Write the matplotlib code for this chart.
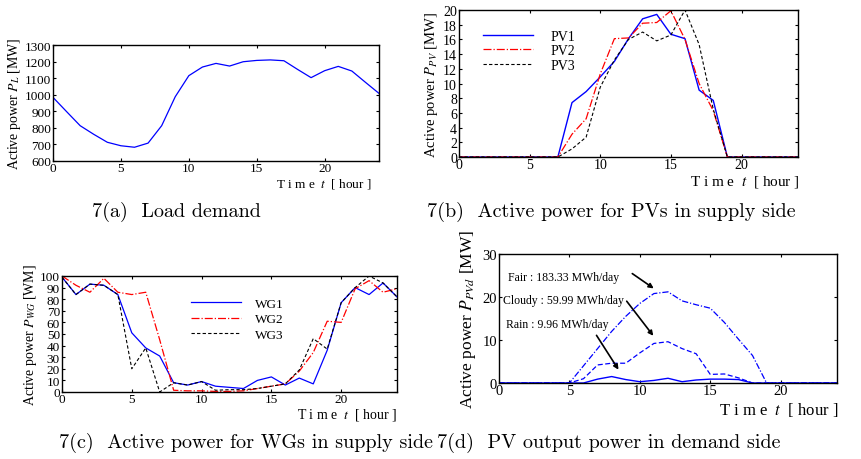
import matplotlib
matplotlib.use("Agg")
import matplotlib.pyplot as plt
import numpy as np

plt.rcParams['font.family'] = ['Liberation Serif', 'DejaVu Serif']
plt.rcParams['mathtext.fontset'] = 'stix'

hours = list(range(25))

# (a) load demand [MW]
load = [984, 898, 813, 761, 713, 692, 683, 708, 813, 988, 1115, 1167, 1189, 1173,
        1199, 1207, 1210, 1205, 1153, 1103, 1145, 1171, 1143, 1075, 1008]

# (b) PV in supply side [MW]
pv1 = [0, 0, 0, 0, 0, 0, 0, 0, 7.4, 8.9, 10.9, 13.0, 16.1, 18.8, 19.4, 16.7, 16.1,
       9.1, 7.7, 0, 0, 0, 0, 0, 0]
pv2 = [0, 0, 0, 0, 0, 0, 0, 0, 3.1, 5.2, 11.3, 16.1, 16.2, 18.2, 18.3, 19.9, 16.0,
       10.0, 6.3, 0, 0, 0, 0, 0, 0]
pv3 = [0, 0, 0, 0, 0, 0, 0, 0, 1.1, 2.7, 9.5, 13.2, 16.0, 17.0, 15.8, 16.6, 20.0,
       15.3, 6.5, 0, 0, 0, 0, 0, 0]

# (c) wind generators
wg1 = [99, 84, 93, 92, 84, 51, 38, 31, 8, 6, 9, 5, 4, 3, 10, 13, 6, 12, 7, 36,
       77, 90, 84, 94, 82]
wg2 = [100, 92, 86, 98, 86, 84, 86, 45, 1.5, 1, 1, 0.5, 0.5, 1, 3, 5, 7, 18, 34,
       61, 60, 89, 96, 86, 89]
wg3 = [99, 84, 93, 92, 84, 20, 38, 0, 8, 6, 9, 1.5, 2, 2, 3, 5, 7, 19, 46, 37,
       77, 90, 100, 94, 82]

# (d) PV output in demand side [MW]
fair = [0, 0, 0, 0, 0, 0, 4.0, 8.0, 12.0, 15.5, 18.5, 20.8, 21.2, 19.1, 18.2, 17.4,
        14.1, 10.2, 6.4, 0, 0, 0, 0, 0, 0]
cloudy = [0, 0, 0, 0, 0, 0, 1.0, 4.2, 4.6, 4.6, 7.0, 9.2, 9.6, 8.0, 6.8, 2.0, 2.1,
          1.2, 0, 0, 0, 0, 0, 0, 0]
rain = [0, 0, 0, 0, 0, 0, 0, 0.9, 1.5, 0.8, 0.3, 0.6, 1.1, 0.3, 0.7, 0.9, 0.9, 0.8,
        0, 0, 0, 0, 0, 0, 0]

W, H = 861, 460
fig = plt.figure(figsize=(W / 100, H / 100), dpi=100)


def box(l, t, r, b):
    return [l / W, 1 - b / H, (r - l) / W, (b - t) / H]


def fpos(x, y):
    return x / W, 1 - y / H


def style(ax, fs):
    ax.set_xlim(0, 24)
    ax.set_xticks([0, 5, 10, 15, 20])
    ax.tick_params(direction='in', top=True, right=True, labelsize=fs, length=2.5, pad=1.5)
    ax.tick_params(axis='x', pad=0.5)
    for s in ax.spines.values():
        s.set_linewidth(1.0)


xlab = r'T i m e  $t$  [ hour ]'

# (a)
ax = fig.add_axes(box(53, 46, 379, 162))
ax.plot(hours, load, color='blue', lw=0.9)
ax.set_ylim(600, 1300)
ax.set_yticks(np.arange(600, 1301, 100))
style(ax, 9.5)
ax.set_ylabel(r'Active power $P_L$ [MW]', fontsize=10, labelpad=1)
fig.text(*fpos(372, 184), xlab, fontsize=9.5, ha='right', va='center')

# (b)
ax = fig.add_axes(box(459, 11, 798, 158))
ax.plot(hours, pv1, color='blue', lw=1.0, label='PV1')
ax.plot(hours, pv2, color='red', lw=0.9, ls='-.', label='PV2')
ax.plot(hours, pv3, color='black', lw=0.8, ls=(0, (3, 2)), label='PV3')
ax.set_ylim(0, 20)
ax.set_yticks(np.arange(0, 21, 2))
style(ax, 10)
ax.set_ylabel(r'Active power $P_{PV}$ [MW]', fontsize=10.5, labelpad=2)
ax.legend(loc='upper left', bbox_to_anchor=fpos(476, 24), bbox_transform=fig.transFigure,
          frameon=False, fontsize=10, handlelength=3.6, handletextpad=1.3,
          labelspacing=0.1, borderpad=0)
fig.text(*fpos(800, 182), xlab, fontsize=11, ha='right', va='center')
fig.text(*fpos(176, 212), '7(a)  Load demand', family='cmr10', fontsize=14.5,
         ha='center', va='center')
fig.text(*fpos(611, 212), '7(b)  Active power for PVs in supply side', family='cmr10',
         fontsize=14.5, ha='center', va='center')

# (c)
ax = fig.add_axes(box(62, 277, 397, 393))
ax.plot(hours, wg1, color='blue', lw=0.9, label='WG1')
ax.plot(hours, wg2, color='red', lw=0.9, ls='-.', label='WG2')
ax.plot(hours, wg3, color='black', lw=0.8, ls=(0, (3, 2)), label='WG3')
ax.set_ylim(0, 100)
ax.set_yticks(np.arange(0, 101, 10))
style(ax, 9.5)
ax.set_ylabel(r'Active power $P_{WG}$ [WM]', fontsize=10, labelpad=1)
ax.legend(loc='upper left', bbox_to_anchor=fpos(184, 292), bbox_transform=fig.transFigure,
          frameon=False, fontsize=9.5, handlelength=3.8, handletextpad=1.1,
          labelspacing=0.25, borderpad=0)
fig.text(*fpos(397, 415), xlab, fontsize=10, ha='right', va='center')

# (d)
ax = fig.add_axes(box(499, 255, 837, 384))
ax.plot(hours, fair, color='blue', lw=0.9, ls=(0, (5, 1.5, 1, 1.5)))
ax.plot(hours, cloudy, color='blue', lw=0.9, ls=(0, (4, 2)))
ax.plot(hours, rain, color='blue', lw=1.0)
ax.set_ylim(0, 30)
ax.set_yticks([0, 10, 20, 30])
style(ax, 10.5)
ax.set_ylabel(r'Active power $P_{PVd}$ [MW]', fontsize=12.5, labelpad=3)
fig.text(*fpos(838, 410), xlab, fontsize=12, ha='right', va='center')

ann = [('Fair : 183.33 MWh/day', (508, 278), (630, 273), (656, 291)),
       ('Cloudy : 59.99 MWh/day', (503, 301), (625, 300), (655, 339)),
       ('Rain : 9.96 MWh/day', (506, 325), (595, 334), (620, 373))]
for txt, tp, a0, a1 in ann:
    fig.text(*fpos(*tp), txt, fontsize=8.5, ha='left', va='center')
    fig.patches.append(matplotlib.patches.FancyArrowPatch(
        fpos(*a0), fpos(*a1), transform=fig.transFigure, arrowstyle='-|>',
        mutation_scale=7, lw=1.2, color='black'))

fig.text(*fpos(433, 443), '7(c)  Active power for WGs in supply side', family='cmr10',
         fontsize=14.5, ha='right', va='center')
fig.text(*fpos(437, 443), '7(d)  PV output power in demand side', family='cmr10',
         fontsize=14.5, ha='left', va='center')

fig.savefig('out.png', dpi=100)
